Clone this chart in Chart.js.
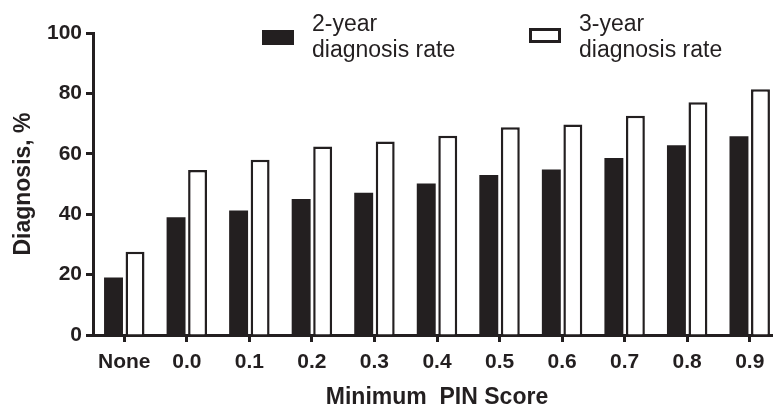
<!DOCTYPE html>
<html>
<head>
<meta charset="utf-8">
<script src="https://cdn.jsdelivr.net/npm/chart.js@4"></script>
<style>
  html, body { margin: 0; padding: 0; background: #fff; overflow: hidden; }
  #wrap { width: 781px; height: 406px; }
</style>
</head>
<body>
<div id="wrap"><canvas id="myChart" width="781" height="406"></canvas></div>
<script>
"use strict";

const categories = ["None", "0.0", "0.1", "0.2", "0.3", "0.4", "0.5", "0.6", "0.7", "0.8", "0.9"];
const twoYear = [19.0, 39.0, 41.2, 45.0, 47.1, 50.2, 53.0, 54.8, 58.6, 62.8, 65.8];
const threeYear = [27.6, 54.6, 58.0, 62.4, 64.1, 66.0, 68.8, 69.7, 72.6, 77.1, 81.4];
const seriesNames = [["2-year", "diagnosis rate"], ["3-year", "diagnosis rate"]];
const yTicks = [0, 20, 40, 60, 80, 100];

const ink = "#231f20";

// legend drawn by hand: two-line labels next to the swatches
const legendBoxes = [
  { x: 262, y: 30, textX: 312 },
  { x: 529, y: 28, textX: 579 },
];

const twoLineLegend = {
  id: "twoLineLegend",
  afterDraw(chart) {
    const ctx = chart.ctx;
    ctx.save();
    chart.data.datasets.forEach(function (ds, i) {
      const b = legendBoxes[i];
      ctx.fillStyle = ds.backgroundColor;
      ctx.fillRect(b.x, b.y, 32, 15);
      if (ds.borderWidth) {
        ctx.strokeStyle = ds.borderColor;
        ctx.lineWidth = 3;
        ctx.strokeRect(b.x + 1.5, b.y + 1.5, 32 - 3, 15 - 3);
      }
      ctx.fillStyle = ink;
      ctx.font = "23px 'Liberation Sans', Arial, sans-serif";
      ctx.textBaseline = "alphabetic";
      ctx.textAlign = "left";
      seriesNames[i].forEach(function (line, k) {
        ctx.fillText(line, b.textX, 31 + k * 26);
      });
    });
    ctx.restore();
  },
};

const data = {
  labels: categories,
  datasets: [
    {
      label: seriesNames[0].join(" "),
      data: twoYear,
      backgroundColor: ink,
      borderWidth: 0,
      categoryPercentage: 0.688,
      barPercentage: 0.88,
    },
    {
      label: seriesNames[1].join(" "),
      data: threeYear,
      backgroundColor: "#ffffff",
      borderColor: ink,
      borderWidth: 2.5,
      categoryPercentage: 0.688,
      barPercentage: 0.88,
    },
  ],
};

const tickFont = { family: "'Liberation Sans', Arial, sans-serif", size: 21, weight: "bold" };
const titleFont = { family: "'Liberation Sans', Arial, sans-serif", size: 23, weight: "bold" };

const config = {
  type: "bar",
  data,
  plugins: [twoLineLegend],
  options: {
    responsive: false,
    animation: false,
    layout: { padding: { top: 33, left: 0, right: 0, bottom: 0 } },
    plugins: {
      legend: { display: false },
      tooltip: { enabled: false },
    },
    scales: {
      x: {
        grid: {
          display: true,
          offset: false,
          drawOnChartArea: false,
          drawTicks: true,
          tickLength: 7,
          tickWidth: 3,
          tickColor: ink,
        },
        border: { display: true, width: 3, color: ink },
        ticks: { color: ink, font: tickFont, padding: 8, maxRotation: 0 },
        title: {
          display: true,
          text: "Minimum  PIN Score",
          color: ink,
          font: titleFont,
          padding: { top: 0, bottom: -5 },
        },
        afterFit(scale) {
          scale.height = 71;
        },
      },
      y: {
        min: 0,
        max: 100,
        afterBuildTicks(scale) {
          scale.ticks = yTicks.map((v) => ({ value: v }));
        },
        grid: {
          display: true,
          drawOnChartArea: false,
          drawTicks: true,
          tickLength: 7,
          tickWidth: 3,
          tickColor: ink,
        },
        border: { display: true, width: 3, color: ink },
        ticks: { color: ink, font: tickFont, padding: 4 },
        title: {
          display: true,
          text: "Diagnosis, %",
          color: ink,
          font: titleFont,
          padding: { top: 10, bottom: 0 },
        },
        afterFit(scale) {
          scale.width = 93;
        },
      },
    },
  },
};

new Chart(document.getElementById("myChart"), config);
</script>
</body>
</html>
